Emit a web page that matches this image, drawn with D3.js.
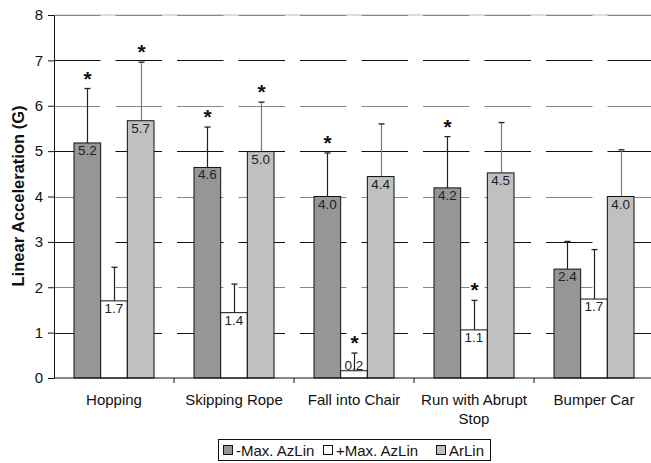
<!DOCTYPE html>
<html>
<head>
<meta charset="utf-8">
<script src="https://cdn.jsdelivr.net/npm/d3@7"></script>
<style>
  body { margin: 0; background: #fff; }
  svg { display: block; }
  svg text { font-family: "Liberation Sans", Arial, sans-serif; }
</style>
</head>
<body>
<svg id="chart"></svg>
<script>
const width = 651;
const height = 463;

// data
const categories = ['Hopping', 'Skipping Rope', 'Fall into Chair', 'Run with Abrupt Stop', 'Bumper Car'];
const categoryLines = [['Hopping'], ['Skipping Rope'], ['Fall into Chair'], ['Run with Abrupt', 'Stop'], ['Bumper Car']];
const seriesNames = ['-Max. AzLin', '+Max. AzLin', 'ArLin'];
const negMax = [5.18, 4.64, 4.0, 4.19, 2.4];
const negMaxSD = [1.2, 0.89, 0.96, 1.13, 0.61];
const negMaxSig = [true, true, true, true, false];
const posMax = [1.7, 1.44, 0.16, 1.06, 1.74];
const posMaxSD = [0.74, 0.63, 0.39, 0.65, 1.09];
const posMaxSig = [false, false, true, true, false];
const arLin = [5.67, 4.99, 4.44, 4.52, 4.0];
const arLinSD = [1.29, 1.09, 1.16, 1.11, 1.03];
const arLinSig = [true, true, false, false, false];
const yTicks = [0, 1, 2, 3, 4, 5, 6, 7, 8];

const fills = ['#969696', '#ffffff', '#c0c0c0'];
const errColors = ['#222', '#222', '#7a7a7a'];

const plotLeft = 54, plotRight = 654, plotTop = 15, plotBottom = 378;

const svg = d3.select('#chart')
  .attr('width', width)
  .attr('height', height);

svg.append('rect').attr('width', width).attr('height', height).attr('fill', '#fff');

const y = d3.scaleLinear().domain([0, 8]).range([plotBottom, plotTop]);
const x0 = d3.scaleBand().domain(categories).range([plotLeft, plotRight]).paddingInner(0);
const x1 = d3.scaleBand().domain(seriesNames).range([0, x0.bandwidth()]).paddingInner(0).paddingOuter(0.75);

const table = [];
const vals = [negMax, posMax, arLin];
const sds = [negMaxSD, posMaxSD, arLinSD];
const sigs = [negMaxSig, posMaxSig, arLinSig];
categories.forEach((c, i) => {
  seriesNames.forEach((s, j) => {
    table.push({ cat: c, series: s, j: j, value: vals[j][i], sd: sds[j][i], sig: sigs[j][i] });
  });
});

// gridlines
svg.append('line')
  .attr('x1', plotLeft).attr('x2', width)
  .attr('y1', y(8)).attr('y2', y(8))
  .attr('stroke', '#bbb');
svg.append('g')
  .selectAll('line')
  .data(yTicks.filter((d) => d > 0))
  .enter()
  .append('line')
  .attr('x1', plotLeft).attr('x2', width)
  .attr('y1', (d) => Math.round(y(d)) + 0.5)
  .attr('y2', (d) => Math.round(y(d)) + 0.5)
  .attr('stroke', (d) => d % 2 ? '#111' : '#888')
  .attr('stroke-dasharray', '46.5,15');

// error bars
const err = svg.append('g');
table.forEach((d) => {
  const cx = Math.round(x0(d.cat) + x1(d.series) + x1.bandwidth() / 2) + 0.5;
  err.append('line')
    .attr('x1', cx).attr('x2', cx)
    .attr('y1', y(d.value)).attr('y2', y(d.value + d.sd))
    .attr('stroke', errColors[d.j]).attr('stroke-width', 1.2);
  err.append('line')
    .attr('x1', cx - 3).attr('x2', cx + 3)
    .attr('y1', y(d.value + d.sd)).attr('y2', y(d.value + d.sd))
    .attr('stroke', '#222').attr('stroke-width', 1.3);
  if (d.sig) {
    err.append('text')
      .attr('x', cx)
      .attr('y', y(d.value + d.sd) - 3)
      .attr('text-anchor', 'middle')
      .attr('font-size', 21)
      .attr('font-weight', 'bold')
      .attr('fill', '#111')
      .text('*');
  }
});

// bars
svg.append('g')
  .selectAll('rect')
  .data(table)
  .enter()
  .append('rect')
  .attr('x', (d) => x0(d.cat) + x1(d.series))
  .attr('width', x1.bandwidth())
  .attr('y', (d) => y(d.value))
  .attr('height', (d) => y(0) - y(d.value))
  .attr('fill', (d) => fills[d.j])
  .attr('stroke', '#111')
  .attr('stroke-width', 1);

// value labels
svg.append('g')
  .selectAll('text')
  .data(table)
  .enter()
  .append('text')
  .attr('x', (d) => x0(d.cat) + x1(d.series) + x1.bandwidth() / 2)
  .attr('y', (d) => Math.min(y(d.value) + 12, y(0) - 8))
  .attr('text-anchor', 'middle')
  .attr('font-size', 13.5)
  .attr('fill', '#222')
  .text((d) => d.value.toFixed(1));

// y axis
const yAxis = svg.append('g')
  .attr('transform', `translate(${plotLeft},0)`)
  .call(d3.axisLeft(y).tickValues(yTicks).tickFormat(d3.format('d')).tickSize(6).tickPadding(5).tickSizeOuter(0));
yAxis.selectAll('text').attr('font-size', 15).attr('fill', '#111');
yAxis.selectAll('line, path').attr('stroke', '#111');

// x axis
const xAxis = svg.append('g')
  .attr('transform', `translate(0,${plotBottom})`);
xAxis.append('line')
  .attr('x1', plotLeft).attr('x2', width)
  .attr('stroke', '#111');
xAxis.selectAll('.tick')
  .data(categories.slice(1))
  .enter()
  .append('line')
  .attr('x1', (d) => x0(d)).attr('x2', (d) => x0(d))
  .attr('y1', 0).attr('y2', 5)
  .attr('stroke', '#111');
categories.forEach((c, i) => {
  const t = xAxis.append('text')
    .attr('x', x0(c) + x0.bandwidth() / 2)
    .attr('y', 27)
    .attr('text-anchor', 'middle')
    .attr('font-size', 15)
    .attr('fill', '#111');
  categoryLines[i].forEach((l, k) => {
    t.append('tspan').attr('x', x0(c) + x0.bandwidth() / 2).attr('dy', k ? 19 : 0).text(l);
  });
});

// y title
svg.append('text')
  .attr('transform', `translate(24,196) rotate(-90)`)
  .attr('text-anchor', 'middle')
  .attr('font-size', 16.5)
  .attr('font-weight', 'bold')
  .attr('fill', '#111')
  .text('Linear Acceleration (G)');

// legend
const legend = svg.append('g');
legend.append('rect')
  .attr('x', 218.5).attr('y', 439.5)
  .attr('width', 272).attr('height', 21)
  .attr('fill', '#fff').attr('stroke', '#111');
const legendX = [223, 323, 436];
seriesNames.forEach((s, j) => {
  legend.append('rect')
    .attr('x', legendX[j] + 0.5).attr('y', 445.5)
    .attr('width', 9).attr('height', 9)
    .attr('fill', fills[j]).attr('stroke', '#111');
  legend.append('text')
    .attr('x', legendX[j] + 13)
    .attr('y', 455.5)
    .attr('font-size', 15)
    .attr('fill', '#111')
    .text(s);
});
</script>
</body>
</html>
